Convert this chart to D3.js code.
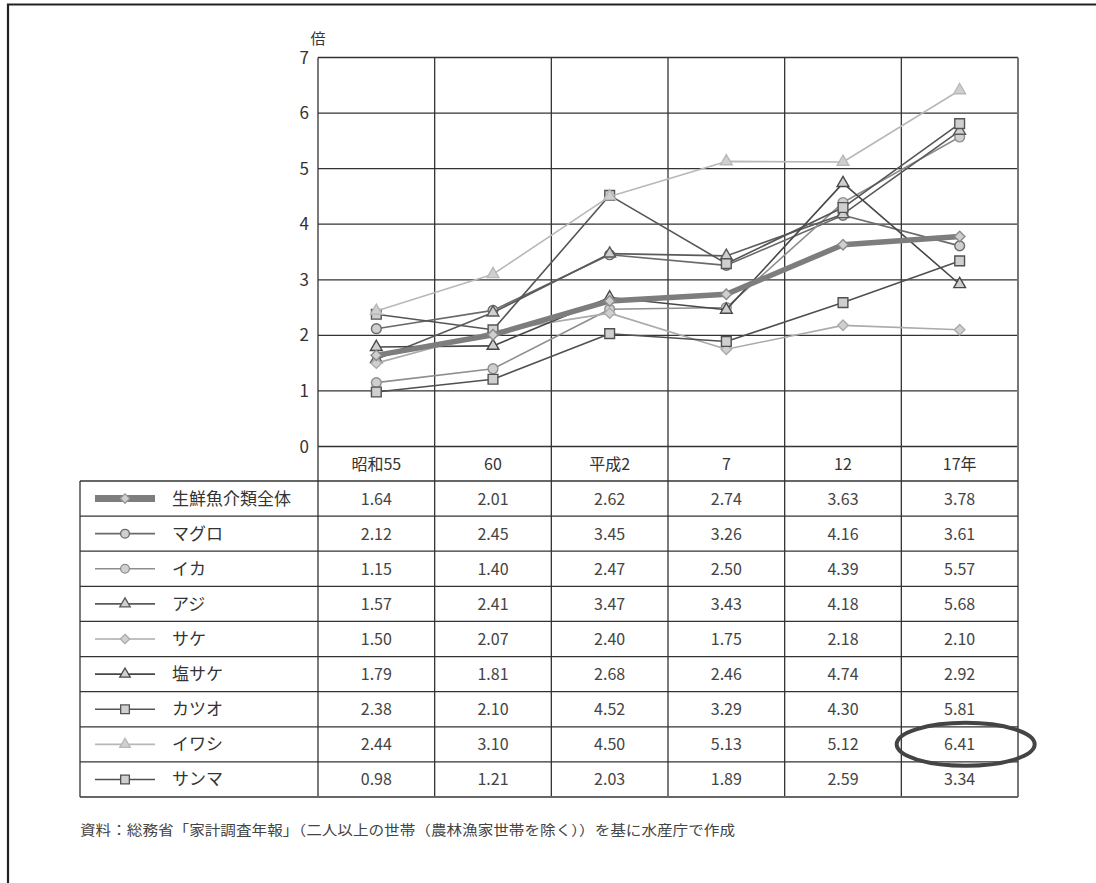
<!DOCTYPE html>
<html lang="ja">
<head>
<meta charset="utf-8">
<script src="https://cdn.jsdelivr.net/npm/d3@7"></script>
<style>
  html, body { margin: 0; padding: 0; background: #fff; }
  svg { display: block; font-family: "Noto Sans CJK JP", "Noto Sans", sans-serif; }
</style>
</head>
<body>
<svg id="chart" width="1096" height="883"></svg>
<script>
// Survey years (x categories) and y-axis ticks
const categories = ["昭和55", "60", "平成2", "7", "12", "17年"];
const yTicks = [0, 1, 2, 3, 4, 5, 6, 7];

// Series names and values (倍)
const seriesNames = ["生鮮魚介類全体", "マグロ", "イカ", "アジ", "サケ", "塩サケ", "カツオ", "イワシ", "サンマ"];
const valuesAll    = [1.64, 2.01, 2.62, 2.74, 3.63, 3.78];
const valuesMaguro = [2.12, 2.45, 3.45, 3.26, 4.16, 3.61];
const valuesIka    = [1.15, 1.40, 2.47, 2.50, 4.39, 5.57];
const valuesAji    = [1.57, 2.41, 3.47, 3.43, 4.18, 5.68];
const valuesSake   = [1.50, 2.07, 2.40, 1.75, 2.18, 2.10];
const valuesShioSake = [1.79, 1.81, 2.68, 2.46, 4.74, 2.92];
const valuesKatsuo = [2.38, 2.10, 4.52, 3.29, 4.30, 5.81];
const valuesIwashi = [2.44, 3.10, 4.50, 5.13, 5.12, 6.41];
const valuesSanma  = [0.98, 1.21, 2.03, 1.89, 2.59, 3.34];
const seriesValues = [valuesAll, valuesMaguro, valuesIka, valuesAji, valuesSake,
                      valuesShioSake, valuesKatsuo, valuesIwashi, valuesSanma];

// Drawing styles per series
const styles = [
  { color: "#7d7d7d", width: 5.5, symbol: d3.symbolDiamond2, size: 70 },
  { color: "#6a6a6a", width: 1.6, symbol: d3.symbolCircle,   size: 75 },
  { color: "#8e8e8e", width: 1.6, symbol: d3.symbolCircle,   size: 75 },
  { color: "#5a5a5a", width: 1.6, symbol: d3.symbolTriangle, size: 60 },
  { color: "#ababab", width: 1.6, symbol: d3.symbolDiamond2, size: 70 },
  { color: "#474747", width: 1.6, symbol: d3.symbolTriangle, size: 60 },
  { color: "#555555", width: 1.6, symbol: d3.symbolSquare,   size: 95 },
  { color: "#b8b8b8", width: 1.6, symbol: d3.symbolTriangle, size: 60 },
  { color: "#505050", width: 1.6, symbol: d3.symbolSquare,   size: 95 }
];

const svg = d3.select("#chart");

// Page frame
svg.append("path")
  .attr("d", "M8,883 V4.5 H1096")
  .attr("fill", "none").attr("stroke", "#222").attr("stroke-width", 2.2);

const plotL = 318, plotR = 1018, plotT = 57.5, plotB = 446.5;
const headerB = 481, tableB = 797, tableL = 80;
const rowH = (tableB - headerB) / seriesNames.length;

const x = d3.scaleBand().domain(categories).range([plotL, plotR]);
const y = d3.scaleLinear().domain([0, 7]).range([plotB, plotT]);

const grid = svg.append("g").attr("stroke", "#333").attr("stroke-width", 1.3).attr("fill", "none");

// Horizontal grid lines
grid.selectAll("line.h").data(yTicks).join("line")
  .attr("x1", plotL).attr("x2", plotR)
  .attr("y1", d => y(d)).attr("y2", d => y(d));

// Vertical column lines running through chart and table
const colEdges = categories.map(c => x(c)).concat([plotR]);
grid.selectAll("line.v").data(colEdges).join("line")
  .attr("x1", d => d).attr("x2", d => d)
  .attr("y1", plotT).attr("y2", tableB)
  .attr("stroke", (d, i) => (i === colEdges.length - 1) ? "#777" : "#333")
  .attr("stroke-width", (d, i) => (i === colEdges.length - 1) ? 2 : 1.3);

// Table row lines
const rowEdges = d3.range(seriesNames.length + 1).map(i => headerB + i * rowH);
grid.selectAll("line.r").data(rowEdges).join("line")
  .attr("x1", tableL).attr("x2", plotR)
  .attr("y1", d => d).attr("y2", d => d)
  .attr("stroke", (d, i) => i === seriesNames.length ? "#666" : "#333")
  .attr("stroke-width", (d, i) => i === seriesNames.length ? 2 : 1.3);
grid.append("line")
  .attr("x1", tableL).attr("x2", tableL).attr("y1", headerB).attr("y2", tableB);

// Y-axis labels
svg.append("g").selectAll("text").data(yTicks).join("text")
  .attr("x", 309).attr("y", d => y(d) + 6)
  .attr("text-anchor", "end")
  .attr("font-size", 17).attr("fill", "#333")
  .text(d => d);
svg.append("text")
  .attr("x", 318).attr("y", 44)
  .attr("text-anchor", "middle")
  .attr("font-size", 15).attr("fill", "#333")
  .text("倍");

// Category header row
svg.append("g").selectAll("text").data(categories).join("text")
  .attr("x", d => x(d) + x.bandwidth() / 2)
  .attr("y", (plotB + headerB) / 2 + 6)
  .attr("text-anchor", "middle")
  .attr("font-size", 16).attr("fill", "#333")
  .text(d => d);

// Lines and markers (overall line drawn last so it sits on top)
const line = d3.line()
  .x((d, i) => x(categories[i]) + x.bandwidth() / 2)
  .y(d => y(d));
const order = d3.range(1, seriesNames.length).concat([0]);

order.forEach(si => {
  const st = styles[si];
  const g = svg.append("g");
  g.append("path")
    .datum(seriesValues[si])
    .attr("d", line)
    .attr("fill", "none")
    .attr("stroke", st.color)
    .attr("stroke-width", st.width)
    .attr("stroke-linejoin", "round");
  g.selectAll("path.m").data(seriesValues[si]).join("path")
    .attr("transform", (d, i) => `translate(${x(categories[i]) + x.bandwidth() / 2},${y(d)})`)
    .attr("d", d3.symbol().type(st.symbol).size(st.size))
    .attr("fill", "#cfcfcf")
    .attr("stroke", si === 0 ? "#8a8a8a" : st.color)
    .attr("stroke-width", 1.4);
});

// Table body: legend samples, names and values
seriesNames.forEach((name, si) => {
  const st = styles[si];
  const cy = headerB + si * rowH + rowH / 2;
  const row = svg.append("g");
  row.append("line")
    .attr("x1", 95).attr("x2", 155).attr("y1", cy).attr("y2", cy)
    .attr("stroke", st.color).attr("stroke-width", si === 0 ? 7 : 1.6);
  row.append("path")
    .attr("transform", `translate(125,${cy})`)
    .attr("d", d3.symbol().type(st.symbol).size(st.size * 0.8))
    .attr("fill", "#d0d0d0")
    .attr("stroke", si === 0 ? "#999" : st.color)
    .attr("stroke-width", 1.3);
  row.append("text")
    .attr("x", 172).attr("y", cy + 6)
    .attr("font-size", 17).attr("fill", "#333")
    .text(name);
  row.selectAll("text.v").data(seriesValues[si]).join("text")
    .attr("x", (d, i) => x(categories[i]) + x.bandwidth() / 2)
    .attr("y", cy + 6)
    .attr("text-anchor", "middle")
    .attr("font-size", 16).attr("fill", "#444")
    .text(d => d.toFixed(2));
});

// Highlight ring around イワシ in the last year
const iwashiIdx = seriesNames.indexOf("イワシ");
svg.append("ellipse")
  .attr("cx", x(categories[5]) + x.bandwidth() / 2 + 6)
  .attr("cy", headerB + iwashiIdx * rowH + rowH / 2)
  .attr("rx", 69).attr("ry", 21.5)
  .attr("fill", "none").attr("stroke", "#444").attr("stroke-width", 4);

// Source note
svg.append("text")
  .attr("x", 80).attr("y", 835)
  .attr("font-size", 14).attr("fill", "#444")
  .attr("textLength", 655).attr("lengthAdjust", "spacingAndGlyphs")
  .text("資料：総務省「家計調査年報」（二人以上の世帯（農林漁家世帯を除く））を基に水産庁で作成");
</script>
</body>
</html>
